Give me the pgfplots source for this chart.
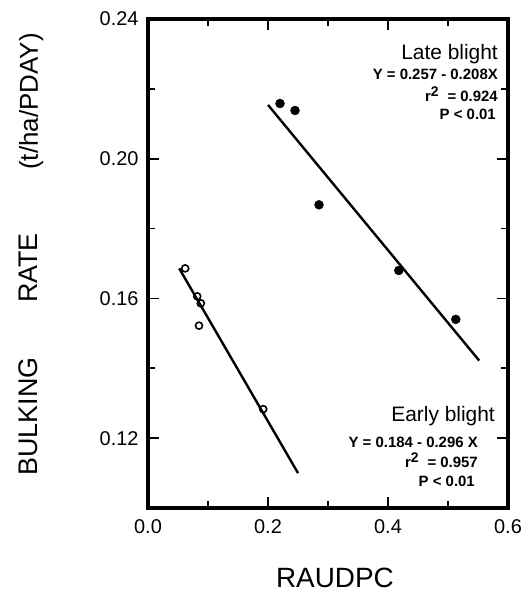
\documentclass[border=0pt]{standalone}
\usepackage{pgfplots}
\pgfplotsset{compat=1.18}
\usepackage{fontspec}
\setmainfont{Liberation Sans}
\pgfplotsset{every tick label/.append style={font=\fontsize{20}{22}\selectfont}}
\begin{document}
\begin{tikzpicture}[x=1bp,y=1bp]
\path[use as bounding box] (-148,-86) rectangle (376,508);
\begin{axis}[at={(0,0)}, anchor=south west, scale only axis,
  width=360bp, height=489bp,
  xmin=0, xmax=0.6, ymin=0.10, ymax=0.24,
  xtick={0,0.2,0.4,0.6}, minor xtick={0.1,0.3,0.5},
  ytick={0.12,0.16,0.20,0.24}, minor ytick={0.14,0.18,0.22},
  xticklabel={\fontsize{20}{22}\selectfont\pgfmathprintnumber[fixed,fixed zerofill,precision=1]{\tick}},
  yticklabel={\fontsize{20}{22}\selectfont\pgfmathprintnumber[fixed,fixed zerofill,precision=2]{\tick}},
  tick align=inside, major tick length=11bp, minor tick length=7bp,
  axis line style={line width=4.5bp},
  every tick/.style={black, line width=1.8bp},
  xticklabel style={yshift=-8bp},
  yticklabel style={xshift=-6bp},
  /pgf/number format/assume math mode=true,
  clip=false,
]
% Late blight
\addplot[only marks, mark=*, mark size=4.5bp, black] coordinates {
  (0.220,0.2158) (0.245,0.2138) (0.285,0.1868) (0.418,0.1680) (0.513,0.1540)};
\addplot[black, line width=2.4bp] coordinates {(0.200,0.2154) (0.552,0.1422)};
% Early blight
\addplot[only marks, mark=o, mark size=3.5bp, black, mark options={line width=1.6bp}] coordinates {
  (0.062,0.1686) (0.082,0.1606) (0.088,0.1586) (0.085,0.1522) (0.192,0.1283)};
\addplot[black, line width=2.4bp] coordinates {(0.052,0.1686) (0.250,0.1100)};
\end{axis}
% axis labels
\node[rotate=90, anchor=base, inner sep=0, font=\fontsize{27}{30}\selectfont] at (-110,91.5) {BULKING};
\node[rotate=90, anchor=base, inner sep=0, font=\fontsize{27}{30}\selectfont] at (-110,240) {RATE};
\node[rotate=90, anchor=base, inner sep=0, font=\fontsize{26}{30}\selectfont] at (-110,406.5) {(t/ha/PDAY)};
\node[anchor=base, inner sep=0, font=\fontsize{28}{30}\selectfont] at (187,-79) {RAUDPC};
% annotations
\node[anchor=base east, inner sep=0, font=\fontsize{21}{23}\selectfont] at (350,448) {Late\ blight};
\node[anchor=base east, inner sep=0, font=\fontsize{15}{17}\selectfont\bfseries] at (350,428) {Y = 0.257 - 0.208X};
\node[anchor=base east, inner sep=0, font=\fontsize{15}{17}\selectfont\bfseries] at (350,406) {r\textsuperscript{\fontsize{14}{14}\selectfont 2}\ \ = 0.924};
\node[anchor=base east, inner sep=0, font=\fontsize{15}{17}\selectfont\bfseries] at (348,388) {P {\textless} 0.01};
\node[anchor=base east, inner sep=0, font=\fontsize{21}{23}\selectfont] at (347,86) {Early\ blight};
\node[anchor=base east, inner sep=0, font=\fontsize{15}{17}\selectfont\bfseries] at (330,60) {Y = 0.184 - 0.296 X};
\node[anchor=base east, inner sep=0, font=\fontsize{15}{17}\selectfont\bfseries] at (330,40) {r\textsuperscript{\fontsize{14}{14}\selectfont 2}\ \ = 0.957};
\node[anchor=base east, inner sep=0, font=\fontsize{15}{17}\selectfont\bfseries] at (327,21) {P {\textless} 0.01};
\end{tikzpicture}
\end{document}
